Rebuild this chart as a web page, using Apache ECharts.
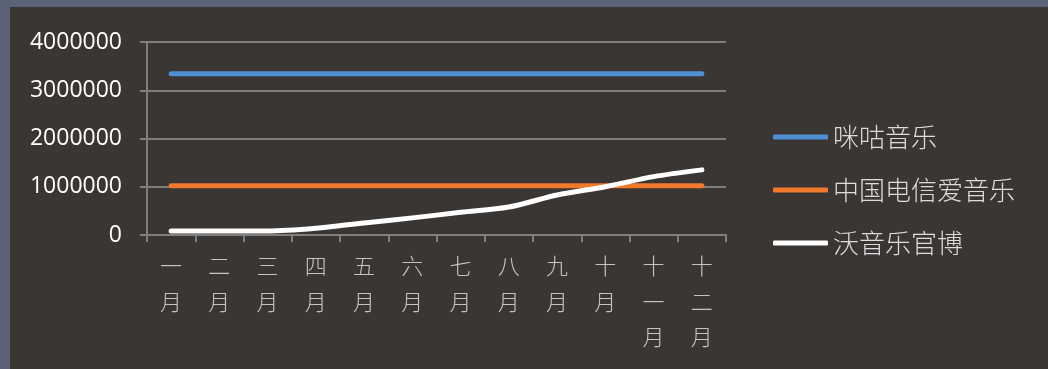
<!DOCTYPE html>
<html>
<head>
<meta charset="utf-8">
<script src="https://cdn.jsdelivr.net/npm/echarts@6/dist/echarts.min.js"></script>
<style>
html,body{margin:0;padding:0;background:#5a6378;width:1048px;height:369px;overflow:hidden;}
#c{position:absolute;left:10px;top:7px;width:1038px;height:362px;background:#3a3634;}
</style>
</head>
<body>
<div id="c"></div>
<script>
const categories = ["一月","二月","三月","四月","五月","六月","七月","八月","九月","十月","十一月","十二月"];
const seriesNames = ["咪咕音乐","中国电信爱音乐","沃音乐官博"];
const miguValues = [3340000,3340000,3340000,3340000,3340000,3340000,3340000,3340000,3340000,3340000,3340000,3340000];
const telecomValues = [1020000,1020000,1020000,1020000,1020000,1020000,1020000,1020000,1020000,1020000,1020000,1020000];
const woValues = [83000,83000,83000,140000,250000,355000,470000,580000,830000,1000000,1210000,1350000];
const yTicks = {min:0, max:4000000, interval:1000000};

const chart = echarts.init(document.getElementById('c'), null, {renderer:'canvas'});
const cjk = '"Noto Sans CJK SC", sans-serif';
const lineS = (name, data, color, smooth) => ({
  name, type:'line', data, symbol:'none', smooth: smooth,
  lineStyle:{color, width:5, cap:'round', join:'round'},
  itemStyle:{color}
});
chart.setOption({
  animation:false,
  backgroundColor:'#3a3634',
  grid:{left:137, top:35, right:322, bottom:134, containLabel:false},
  xAxis:{
    type:'category', data:categories, boundaryGap:true,
    axisLine:{lineStyle:{color:'#7f7f7f', width:2}},
    axisTick:{show:true, length:7, alignWithLabel:false, lineStyle:{color:'#7f7f7f', width:2}},
    axisLabel:{interval:0, margin:13, color:'#c4c4c4', fontSize:22, lineHeight:35.5, fontFamily:cjk, fontWeight:300,
      formatter: v => v.split('').join('\n')}
  },
  yAxis:{
    type:'value', min:yTicks.min, max:yTicks.max, interval:yTicks.interval,
    axisLine:{show:true, lineStyle:{color:'#7f7f7f', width:2}},
    axisTick:{show:true, length:7, lineStyle:{color:'#7f7f7f', width:2}},
    splitLine:{show:true, lineStyle:{color:'#7f7f7f', width:2}},
    axisLabel:{margin:25, color:'#ffffff', fontSize:23, fontFamily:'"Open Sans", sans-serif',
      formatter: v => String(v)}
  },
  legend:{
    orient:'vertical', left:763, top:115, padding:0, icon:'roundRect', itemWidth:55, itemHeight:5, itemGap:23,
    textStyle:{color:'#dcdcdc', fontSize:26, lineHeight:30, fontFamily:cjk, fontWeight:300},
    data:seriesNames
  },
  series:[
    lineS(seriesNames[0], miguValues, '#4f8fd6', false),
    lineS(seriesNames[1], telecomValues, '#f07a2a', false),
    lineS(seriesNames[2], woValues, '#ffffff', 0.3)
  ]
});
</script>
</body>
</html>
